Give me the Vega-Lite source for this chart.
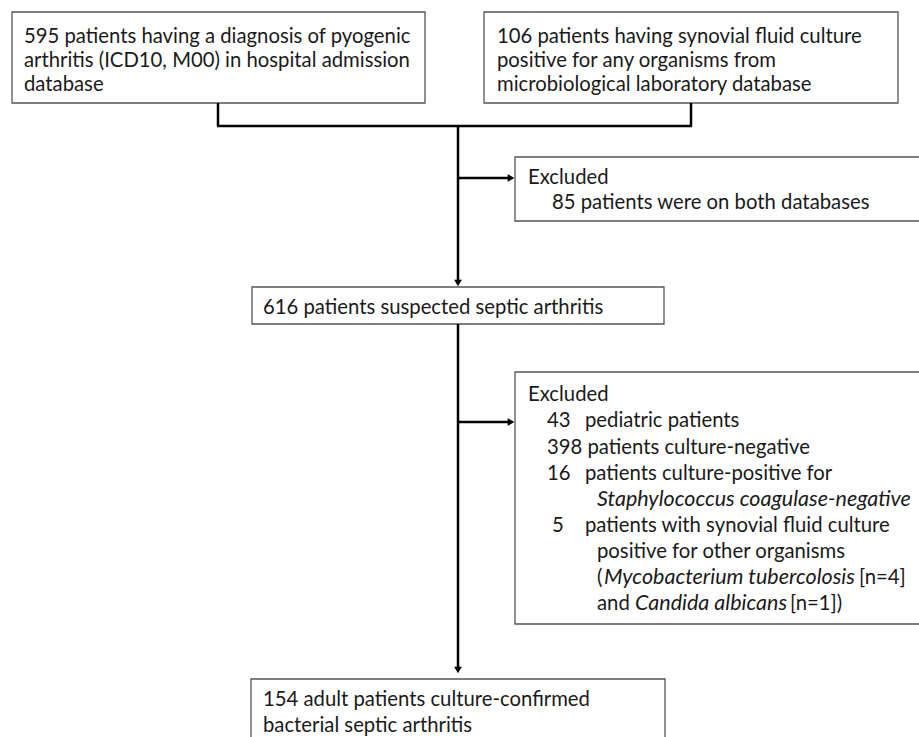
{
  "$schema": "https://vega.github.io/schema/vega-lite/v6.json",
  "width": 919,
  "height": 737,
  "autosize": {"type": "none"},
  "padding": 0,
  "background": "white",
  "config": {"view": {"stroke": null}},
  "datasets": {
    "boxes": [
      {"x": 12, "x2": 425, "y": 12, "y2": 103},
      {"x": 484, "x2": 898, "y": 12, "y2": 103},
      {"x": 515, "x2": 925, "y": 157, "y2": 221},
      {"x": 252, "x2": 664, "y": 287, "y2": 324},
      {"x": 515, "x2": 925, "y": 372, "y2": 624},
      {"x": 251, "x2": 665, "y": 679, "y2": 745}
    ],
    "lines": [
      {"x": 218, "x2": 218, "y": 103, "y2": 126},
      {"x": 691, "x2": 691, "y": 103, "y2": 126},
      {"x": 217, "x2": 692, "y": 126, "y2": 126},
      {"x": 458, "x2": 458, "y": 126, "y2": 282},
      {"x": 458, "x2": 510, "y": 178, "y2": 178},
      {"x": 458, "x2": 458, "y": 324, "y2": 668},
      {"x": 458, "x2": 510, "y": 422, "y2": 422}
    ],
    "heads": [
      {"x": 458, "y": 283, "shape": "triangle-down"},
      {"x": 458, "y": 670, "shape": "triangle-down"},
      {"x": 511, "y": 178, "shape": "triangle-right"},
      {"x": 511, "y": 422, "shape": "triangle-right"}
    ],
    "texts": [
      {"x": 24, "y": 37, "t": "595 patients having a diagnosis of pyogenic", "it": false},
      {"x": 24, "y": 61, "t": "arthritis (ICD10, M00) in hospital admission", "it": false},
      {"x": 24, "y": 85, "t": "database", "it": false},
      {"x": 497, "y": 37, "t": "106 patients having synovial fluid culture", "it": false},
      {"x": 497, "y": 61, "t": "positive for any organisms from", "it": false},
      {"x": 497, "y": 85, "t": "microbiological laboratory database", "it": false},
      {"x": 528, "y": 178, "t": "Excluded", "it": false},
      {"x": 552, "y": 203, "t": "85 patients were on both databases", "it": false},
      {"x": 263, "y": 308, "t": "616 patients suspected septic arthritis", "it": false},
      {"x": 528, "y": 395, "t": "Excluded", "it": false},
      {"x": 547, "y": 421, "t": "43", "it": false},
      {"x": 585, "y": 421, "t": "pediatric patients", "it": false},
      {"x": 547, "y": 448, "t": "398 patients culture-negative", "it": false},
      {"x": 547, "y": 474, "t": "16", "it": false},
      {"x": 585, "y": 474, "t": "patients culture-positive for", "it": false},
      {"x": 597, "y": 500, "t": "Staphylococcus coagulase-negative", "it": true},
      {"x": 552, "y": 526, "t": "5", "it": false},
      {"x": 585, "y": 526, "t": "patients with synovial fluid culture", "it": false},
      {"x": 597, "y": 552, "t": "positive for other organisms", "it": false},
      {"x": 597, "y": 578, "t": "(", "it": false},
      {"x": 604, "y": 578, "t": "Mycobacterium tubercolosis", "it": true},
      {"x": 859, "y": 578, "t": "[n=4]", "it": false},
      {"x": 597, "y": 604, "t": "and", "it": false},
      {"x": 635, "y": 604, "t": "Candida albicans", "it": true},
      {"x": 790, "y": 604, "t": "[n=1])", "it": false},
      {"x": 263, "y": 700, "t": "154 adult patients culture-confirmed", "it": false},
      {"x": 263, "y": 726, "t": "bacterial septic arthritis", "it": false}
    ]
  },
  "layer": [
    {
      "data": {"name": "boxes"},
      "mark": {"type": "rect", "fill": "white", "stroke": "#555555", "strokeWidth": 1.3, "clip": false},
      "encoding": {
        "x": {"field": "x", "type": "quantitative", "scale": {"domain": [0, 919], "nice": false, "zero": false}, "axis": null},
        "x2": {"field": "x2"},
        "y": {"field": "y", "type": "quantitative", "scale": {"domain": [0, 737], "nice": false, "zero": false, "reverse": true}, "axis": null},
        "y2": {"field": "y2"}
      }
    },
    {
      "data": {"name": "lines"},
      "mark": {"type": "rule", "color": "black", "strokeWidth": 2.5},
      "encoding": {
        "x": {"field": "x", "type": "quantitative", "scale": {"domain": [0, 919], "nice": false, "zero": false}, "axis": null},
        "x2": {"field": "x2"},
        "y": {"field": "y", "type": "quantitative", "scale": {"domain": [0, 737], "nice": false, "zero": false, "reverse": true}, "axis": null},
        "y2": {"field": "y2"}
      }
    },
    {
      "data": {"name": "heads"},
      "mark": {"type": "point", "filled": true, "color": "black", "opacity": 1, "size": 60},
      "encoding": {
        "x": {"field": "x", "type": "quantitative", "scale": {"domain": [0, 919], "nice": false, "zero": false}, "axis": null},
        "y": {"field": "y", "type": "quantitative", "scale": {"domain": [0, 737], "nice": false, "zero": false, "reverse": true}, "axis": null},
        "shape": {"field": "shape", "type": "nominal", "scale": null, "legend": null}
      }
    },
    {
      "data": {"name": "texts"},
      "transform": [{"filter": "!datum.it"}],
      "mark": {"type": "text", "align": "left", "baseline": "middle", "font": "Lato", "fontSize": 20.3, "color": "#1a1a1a"},
      "encoding": {
        "x": {"field": "x", "type": "quantitative", "scale": {"domain": [0, 919], "nice": false, "zero": false}, "axis": null},
        "y": {"field": "y", "type": "quantitative", "scale": {"domain": [0, 737], "nice": false, "zero": false, "reverse": true}, "axis": null},
        "text": {"field": "t", "type": "nominal"}
      }
    },
    {
      "data": {"name": "texts"},
      "transform": [{"filter": "datum.it"}],
      "mark": {"type": "text", "align": "left", "baseline": "middle", "font": "Lato", "fontSize": 21.5, "fontStyle": "italic", "color": "#1a1a1a"},
      "encoding": {
        "x": {"field": "x", "type": "quantitative", "scale": {"domain": [0, 919], "nice": false, "zero": false}, "axis": null},
        "y": {"field": "y", "type": "quantitative", "scale": {"domain": [0, 737], "nice": false, "zero": false, "reverse": true}, "axis": null},
        "text": {"field": "t", "type": "nominal"}
      }
    }
  ]
}
